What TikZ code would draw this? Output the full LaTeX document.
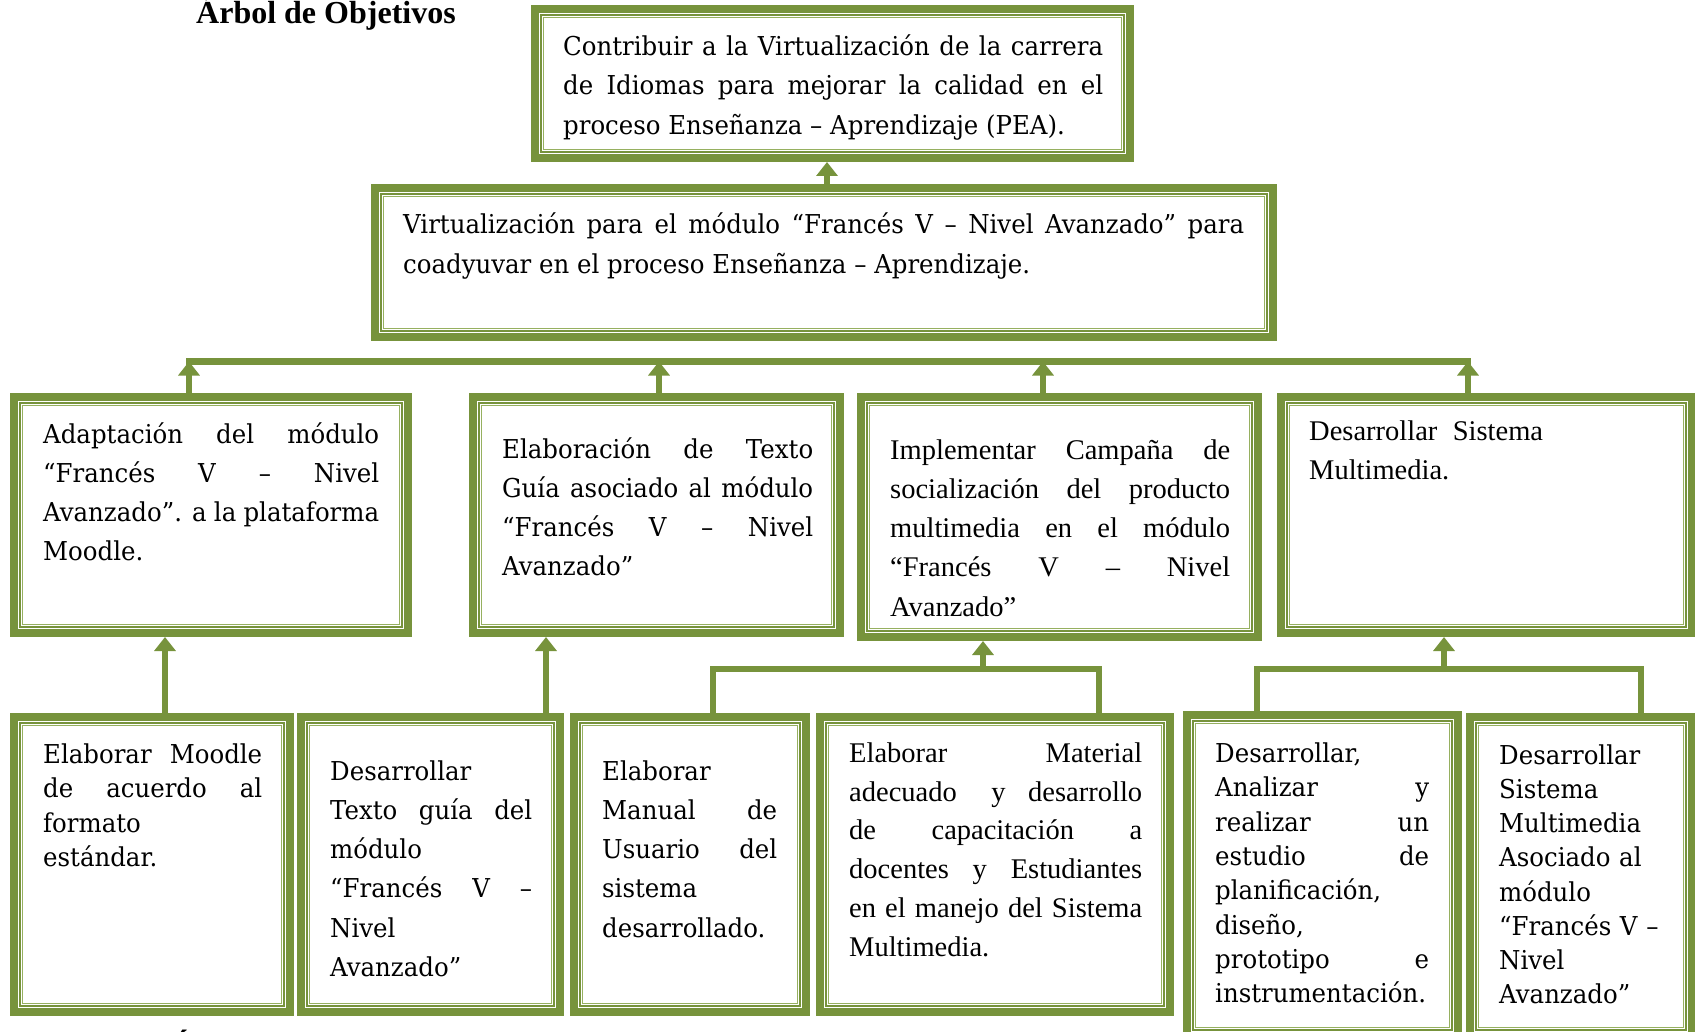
\documentclass[tikz,border=0pt]{standalone}
\usepackage{fontspec}
\setmainfont{Liberation Serif}
\newfontfamily\camb[FakeStretch=0.94]{DejaVu Serif}
\newfontfamily\tms{Liberation Serif}
\usetikzlibrary{arrows.meta,fit}
\definecolor{ogreen}{RGB}{119,147,60}
\definecolor{lgreen}{RGB}{150,176,96}
\tolerance=10000
\hbadness=10000
\hyphenpenalty=10000
\exhyphenpenalty=10000

\tikzset{
  gbox/.style={inner sep=0pt, outer sep=0pt, fill=white,
    path picture={
      \draw[ogreen, line width=8pt]
        ([shift={(4pt,-4pt)}]path picture bounding box.north west) rectangle
        ([shift={(-4pt,4pt)}]path picture bounding box.south east);
      \draw[ogreen, line width=1.8pt]
        ([shift={(9.8pt,-9.8pt)}]path picture bounding box.north west) rectangle
        ([shift={(-9.8pt,9.8pt)}]path picture bounding box.south east);
      \draw[lgreen, line width=1.1pt]
        ([shift={(12.2pt,-12.2pt)}]path picture bounding box.north west) rectangle
        ([shift={(-12.2pt,12.2pt)}]path picture bounding box.south east);
    }},
  camtxt/.style={anchor=base west, inner sep=0pt, align=justify,
    font=\camb\fontsize{26}{#1}\selectfont},
  tmstxt/.style={anchor=base west, inner sep=0pt, align=justify,
    font=\tms\fontsize{28.5}{#1}\selectfont},
  lnk/.style={draw=ogreen, line width=6.5pt},
  conn/.style={lnk, -{Triangle[length=14pt 0, width=21pt 0]}},
}

\begin{document}
\begin{tikzpicture}[x=1pt, y=-1pt]
\useasboundingbox (0,0) rectangle (1695,1032);
\fill[white] (0,0) rectangle (1695,1032);
\clip (0,0) rectangle (1695,1032);

% title
\node[anchor=base west, inner sep=0pt, font=\bfseries\fontsize{32}{38}\selectfont]
  (title) at (196,24) {Árbol de Objetivos};

% frames
\node[gbox, fit={(531,5)(1134,162)}] (fin) {};
\node[gbox, fit={(371,184)(1277,341)}] (prop) {};
\node[gbox, fit={(10,393)(412,637)}] (mA) {};
\node[gbox, fit={(469,393)(844,637)}] (mB) {};
\node[gbox, fit={(857,393)(1262,641)}] (mC) {};
\node[gbox, fit={(1277,393)(1696,637)}] (mD) {};
\node[gbox, fit={(10,713)(294,1016)}] (a1) {};
\node[gbox, fit={(297,713)(564,1016)}] (a2) {};
\node[gbox, fit={(570,713)(810,1016)}] (a3) {};
\node[gbox, fit={(816,713)(1174,1016)}] (a4) {};
\node[gbox, fit={(1183,711)(1462,1040)}] (a5) {};
\node[gbox, fit={(1466,713)(1696,1040)}] (a6) {};

% texts
\node[camtxt=39.5, text width=540pt] (tfin) at (563,55.5)
  {Contribuir a la Virtualización de la carrera\linebreak
   de Idiomas para mejorar la calidad en el\linebreak
   proceso Enseñanza – Aprendizaje (PEA).};
\node[camtxt=40, text width=841pt] (tprop) at (403,234)
  {Virtualización para el módulo “Francés V – Nivel Avanzado” para\linebreak
   coadyuvar en el proceso Enseñanza – Aprendizaje.};
\node[camtxt=39, text width=336pt] (tA) at (43,443)
  {Adaptación del módulo\linebreak “Francés V – Nivel\linebreak
   Avanzado”. a la plataforma\linebreak Moodle.};
\node[camtxt=39, text width=311pt] (tB) at (502,458)
  {Elaboración de Texto\linebreak Guía asociado al módulo\linebreak
   “Francés V – Nivel\linebreak Avanzado”};
\node[tmstxt=39.3, text width=340pt] (tC) at (890,459)
  {Implementar Campaña de\linebreak socialización del producto\linebreak
   multimedia en el módulo\linebreak “Francés V – Nivel\linebreak Avanzado”};
\node[tmstxt=39, text width=240pt, align=left] (tD) at (1309,440)
  {Desarrollar\hspace{6pt} Sistema\\Multimedia.};
\node[camtxt=34.4, text width=219pt] (t1) at (43,763.5)
  {Elaborar Moodle\linebreak de acuerdo al\linebreak formato\linebreak estándar.};
\node[camtxt=39.3, text width=202pt] (t2) at (330,780)
  {Desarrollar\linebreak Texto guía del\linebreak módulo\linebreak
   “Francés V –\linebreak Nivel\linebreak Avanzado”};
\node[camtxt=39.3, text width=175pt] (t3) at (602,780)
  {Elaborar\linebreak Manual de\linebreak Usuario del\linebreak sistema\linebreak desarrollado.};
\node[tmstxt=38.7, text width=293pt] (t4) at (849,762.5)
  {Elaborar Material\linebreak adecuado\hspace{12pt} y desarrollo\linebreak
   de capacitación a\linebreak docentes y Estudiantes\linebreak
   en el manejo del Sistema\linebreak Multimedia.};
\node[camtxt=34.3, text width=214pt] (t5) at (1215,762.5)
  {Desarrollar,\linebreak Analizar y\linebreak realizar un\linebreak estudio de\linebreak
   planificación,\linebreak diseño,\linebreak prototipo e\linebreak instrumentación.};
\node[camtxt=34.1, text width=180pt, align=left] (t6) at (1499,764.6)
  {Desarrollar\\Sistema\\Multimedia\\Asociado al\\módulo\\“Francés V –\\Nivel\\Avanzado”};

% junction points of the connectors
\coordinate (up0) at (827,0);
\coordinate (busL) at (189,361.5);
\coordinate (busB) at (659,361.5);
\coordinate (busC) at (1043,361.5);
\coordinate (busR) at (1468,361.5);
\coordinate (x1) at (165,0);
\coordinate (x2) at (546,0);
\coordinate (v3) at (713,669);
\coordinate (v4) at (1099,669);
\coordinate (jC) at (983,669);
\coordinate (v5) at (1257,669);
\coordinate (v6) at (1641,669);
\coordinate (jD) at (1444,669);

% connectors
\draw[conn] (up0 |- prop.north) -- (up0 |- fin.south);
\draw[lnk, line cap=rect] (busL) -- (busR);
\draw[conn] (busL |- mA.north) -- (busL);
\draw[conn] (busB |- mB.north) -- (busB);
\draw[conn] (busC |- mC.north) -- (busC);
\draw[conn] (busR |- mD.north) -- (busR);
\draw[conn] (x1 |- a1.north) -- (x1 |- mA.south);
\draw[conn] (x2 |- a2.north) -- (x2 |- mB.south);
\draw[lnk, line join=miter] (v3 |- a3.north) -- (v3) -- (v4) -- (v4 |- a4.north);
\draw[conn] (jC) -- (jC |- mC.south);
\draw[lnk, line join=miter] (v5 |- a5.north) -- (v5) -- (v6) -- (v6 |- a6.north);
\draw[conn] (jD) -- (jD |- mD.south);

% caption line below the lowest row, cut by the page edge
\node[anchor=base, inner sep=0pt, font=\bfseries\fontsize{32}{38}\selectfont]
  (capt) at (182,1057) {Á};
\end{tikzpicture}
\end{document}
